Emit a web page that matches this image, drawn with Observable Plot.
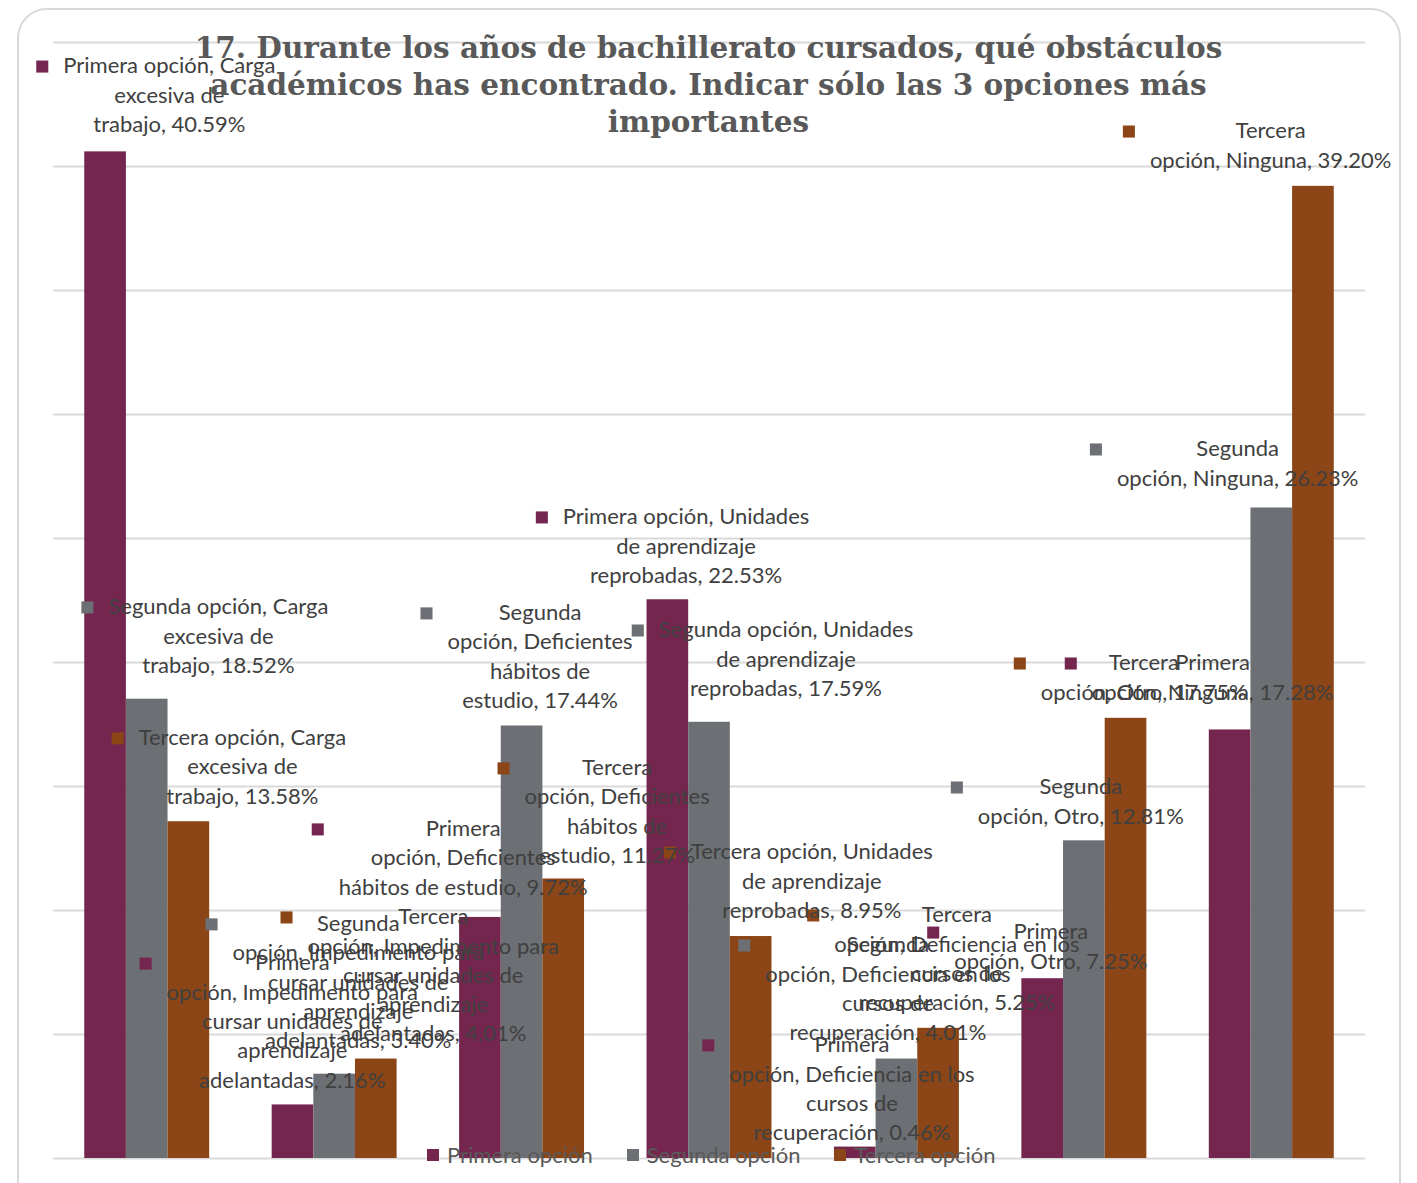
<!DOCTYPE html>
<html><head><meta charset="utf-8">
<script src="https://cdn.jsdelivr.net/npm/d3@7"></script>
<script src="https://cdn.jsdelivr.net/npm/@observablehq/plot@0.6"></script>
<style>
html,body{margin:0;padding:0;background:#fff;overflow:hidden;}
#wrap{position:relative;width:1417px;height:1183px;overflow:hidden;}
#border{position:absolute;left:17px;top:8px;width:1384px;height:1260px;border:2px solid #d9d9d9;border-radius:30px;box-sizing:border-box;}
#chart{position:absolute;left:0;top:0;}
#title{position:absolute;left:0;width:1417px;top:29px;text-align:center;font-family:"DejaVu Serif",serif;font-weight:bold;font-size:29.5px;line-height:37px;color:#595959;}
#legend{position:absolute;left:427px;top:1143px;display:flex;align-items:center;gap:34px;font-family:Lato,sans-serif;font-size:22px;line-height:24px;color:#595959;}
#legend .item{display:flex;align-items:center;}
#legend .key{width:12px;height:12px;margin-right:8px;}
</style>
</head><body>
<div id="wrap">
  <div id="border"></div>
  <div id="chart"></div>
  <div id="title">17. Durante los años de bachillerato cursados, qué obstáculos<br>académicos has encontrado. Indicar sólo las 3 opciones más<br>importantes</div>
  <div id="legend"></div>
</div>
<script>
// ---- data ----
const categories = ["Carga excesiva de trabajo", "Impedimento para cursar unidades de aprendizaje adelantadas", "Deficientes hábitos de estudio", "Unidades de aprendizaje reprobadas", "Deficiencia en los cursos de recuperación", "Otro", "Ninguna"];
const seriesNames = ["Primera opción", "Segunda opción", "Tercera opción"];
const primera = [40.59, 2.16, 9.72, 22.53, 0.46, 7.25, 17.28];
const segunda = [18.52, 3.40, 17.44, 17.59, 4.01, 12.81, 26.23];
const tercera = [13.58, 4.01, 11.27, 8.95, 5.25, 17.75, 39.20];
const yTicks = [0, 5, 10, 15, 20, 25, 30, 35, 40, 45];
const colors = ["#75264F", "#6C6F73", "#8B4516"];

// label layout (words per line, anchor in data units: category position, percent)
const primeraWrap = [[3,2,2],[1,3,3,1,2],[1,2,5],[3,2,2],[1,4,2,2],[1,3],[1,3]];
const segundaWrap = [[3,2,2],[1,3,3,1,2],[1,2,2,2],[3,2,2],[1,4,2,2],[1,3],[1,3]];
const terceraWrap = [[3,2,2],[1,3,3,1,2],[1,2,2,2],[3,2,2],[1,4,2,2],[1,3],[1,3]];
const primeraLabelX = [0.618, 1.274, 2.186, 3.375, 4.260, 5.321, 6.184];
const primeraLabelY = [44.03, 7.86, 13.27, 25.85, 4.56, 9.11, 19.96];
const segundaLabelX = [0.880, 1.626, 2.596, 3.908, 4.452, 5.481, 6.318];
const segundaLabelY = [22.22, 9.44, 21.98, 21.29, 8.59, 14.96, 28.59];
const terceraLabelX = [1.008, 2.026, 3.007, 4.046, 4.820, 5.817, 6.494];
const terceraLabelY = [16.94, 9.72, 15.73, 12.34, 9.80, 19.96, 41.41];

// ---- build ----
const W = 1417, H = 1183, mL = 53, mR = 52, mT = 42, mB = 25;
const FS = 22, LH = 29.3;
const values = [primera, segunda, tercera];
const wraps = [primeraWrap, segundaWrap, terceraWrap];
const lx = [primeraLabelX, segundaLabelX, terceraLabelX];
const ly = [primeraLabelY, segundaLabelY, terceraLabelY];
const n = categories.length;
const barW = 2 / 9, groupOff = 1 / 6;

const bars = [];
const labels = [];
const ctx = document.createElement("canvas").getContext("2d");
ctx.font = `${FS}px Lato`;
const pxPerUnit = (W - mL - mR) / n;
seriesNames.forEach((s, j) => {
  categories.forEach((c, i) => {
    const v = values[j][i];
    const x1 = i + groupOff + j * barW;
    bars.push({series: s, category: c, value: v, x1, x2: x1 + barW});
    const words = `${s}, ${c}, ${v.toFixed(2)}%`.split(" ");
    const lines = [];
    let k = 0;
    for (const cnt of wraps[j][i]) { lines.push(words.slice(k, k + cnt).join(" ")); k += cnt; }
    const maxW = d3.max(lines, l => ctx.measureText(l).width);
    labels.push({series: s, text: lines.join("\n"), lu: lx[j][i], ly: ly[j][i], keyU: lx[j][i] - (maxW / 2 + 21) / pxPerUnit});
  });
});

const plot = Plot.plot({
  width: W, height: H,
  marginLeft: mL, marginRight: mR, marginTop: mT, marginBottom: mB,
  x: {domain: [0, n], axis: null},
  y: {domain: [0, 45], axis: null},
  color: {domain: seriesNames, range: colors},
  marks: [
    Plot.ruleY(yTicks, {stroke: "#d9d9d9", strokeWidth: 2}),
    Plot.rectY(bars, {x1: "x1", x2: "x2", y: "value", fill: "series"}),
    Plot.dot(labels, {x: "keyU", y: "ly", symbol: "square", r: 6.8, fill: "series", stroke: null}),
    Plot.text(labels, {x: "lu", y: "ly", text: "text", lineAnchor: "top", dy: -14, lineHeight: LH / FS,
      fontSize: FS, fontFamily: "Lato", fill: "#404040", textAnchor: "middle"})
  ]
});
plot.style.fontFamily = "Lato";
document.getElementById("chart").appendChild(plot);

const legend = document.getElementById("legend");
seriesNames.forEach((s, j) => {
  const item = document.createElement("div");
  item.className = "item";
  const key = document.createElement("span");
  key.className = "key";
  key.style.background = colors[j];
  const t = document.createElement("span");
  t.textContent = s;
  item.appendChild(key); item.appendChild(t);
  legend.appendChild(item);
});
</script>
</body></html>
